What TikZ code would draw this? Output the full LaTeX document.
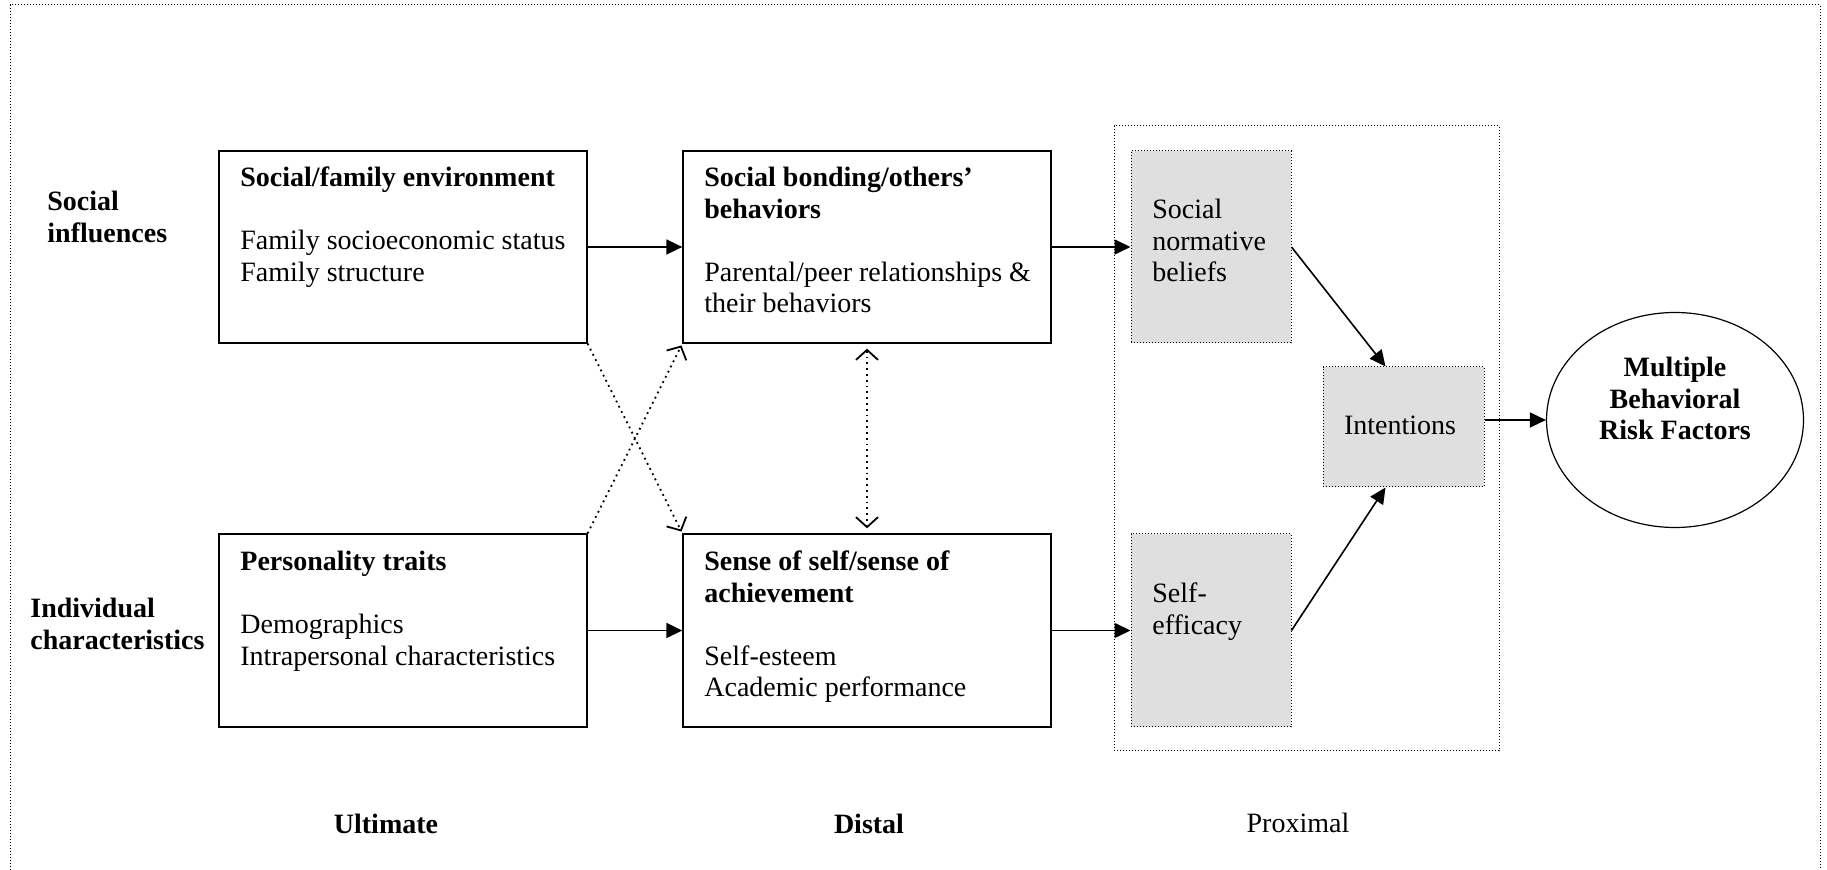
\documentclass[tikz,border=0pt]{standalone}
\usepackage{fontspec}
\setmainfont{Liberation Serif}
\usetikzlibrary{arrows.meta,shapes.geometric}
\newcommand\tbl[1]{{\fontsize{14pt}{15.75pt}\selectfont\begin{tabular}[t]{@{}l@{}}#1\end{tabular}}}
\newcommand\tbc[1]{{\fontsize{14pt}{15.75pt}\selectfont\begin{tabular}[t]{@{}c@{}}#1\end{tabular}}}
\begin{document}
\begin{tikzpicture}[x=0.5pt,y=-0.5pt,
  fine/.style={line width=0.5pt, dash pattern=on 0.6pt off 0.9pt},
  box/.style={draw, line width=0.65pt, minimum width=184pt, minimum height=96pt, inner sep=0pt},
  gbox/.style={draw, fine, fill=gray!25, inner sep=0pt},
  txt/.style={anchor=base west, inner sep=0pt},
  ctxt/.style={anchor=base, inner sep=0pt},
  arr/.style={-{Triangle[length=8pt,width=7.5pt]}, line width=0.8pt},
  dots/.style={line width=0.9pt, dash pattern=on 0.9pt off 2pt},
  darr/.style={dots, -{Straight Barb[length=5pt,width=11pt,line width=0.9pt]}, shorten >=1pt},
  ddarr/.style={dots, {Straight Barb[length=5pt,width=11pt,line width=0.9pt]}-{Straight Barb[length=5pt,width=11pt,line width=0.9pt]}, shorten >=2.5pt, shorten <=2.5pt}
]
\useasboundingbox (0,0) rectangle (1827,870);
\draw[fine] (10,870) -- (10,5) -- (1820,5) -- (1820,870);

% proximal group
\node[draw, fine, minimum width=192.5pt, minimum height=312.5pt, inner sep=0pt] (prox) at (1306.5,438.5) {};

% boxes
\node[box] (sfe) at (403,247) {};
\node[box] (sb) at (867,247) {};
\node[box, minimum height=96.5pt] (pt) at (403,630.5) {};
\node[box, minimum height=96.5pt] (sos) at (867,630.5) {};
\node[gbox, minimum width=80pt, minimum height=96pt] (snb) at (1211,247) {};
\node[gbox, minimum width=80pt, minimum height=96.5pt] (se) at (1211,630.5) {};
\node[gbox, minimum width=80.5pt, minimum height=60pt] (int) at (1403.5,427) {};
\node[draw, ellipse, line width=0.6pt, minimum width=128.5pt, minimum height=107.5pt, inner sep=0pt] (mbr) at (1675,420) {};

% texts
\node[txt] (lsoc) at (47,211) {\tbl{\textbf{Social}\\\textbf{influences}}};
\node[txt] (lind) at (30,618) {\tbl{\textbf{Individual}\\\textbf{characteristics}}};
\node[txt] (tsfe) at (240,187) {\tbl{\textbf{Social/family environment}\\[15.75pt]Family socioeconomic status\\Family structure}};
\node[txt] (tsb) at (704,187) {\tbl{\textbf{Social bonding/others’}\\\textbf{behaviors}\\[15.75pt]Parental/peer relationships \&\\their behaviors}};
\node[txt] (tpt) at (240,571) {\tbl{\textbf{Personality traits}\\[15.75pt]Demographics\\Intrapersonal characteristics}};
\node[txt] (tsos) at (704,571) {\tbl{\textbf{Sense of self/sense of}\\\textbf{achievement}\\[15.75pt]Self-esteem\\Academic performance}};
\node[txt] (tsnb) at (1152,219) {\tbl{Social\\normative\\beliefs}};
\node[txt] (tse) at (1152,603) {\tbl{Self-\\efficacy}};
\node[ctxt] (tint) at (1400,435) {\tbl{Intentions}};
\node[ctxt] (tmbr) at (1675,377) {\tbc{\textbf{Multiple}\\\textbf{Behavioral}\\\textbf{Risk Factors}}};
\node[ctxt] (lult) at (386,834) {\tbl{\textbf{Ultimate}}};
\node[ctxt] (ldis) at (869,834) {\tbl{\textbf{Distal}}};
\node[ctxt] (lprox) at (1298,833) {\tbl{Proximal}};

% connectors
\draw[arr] (sfe.east) -- (sb.west);
\draw[arr] (pt.east) -- (sos.west);
\draw[arr] (sb.east) -- (snb.west);
\draw[arr] (sos.east) -- (se.west);
\draw[arr] (snb.east) -- ([xshift=-9pt]int.north);
\draw[arr] (se.east) -- ([xshift=-9pt]int.south);
\draw[arr] (int.east |- mbr.west) -- (mbr.west);
\draw[darr] (sfe.south east) -- (sos.north west);
\draw[darr] (pt.north east) -- (sb.south west);
\draw[ddarr] (sb.south) -- (sos.north);
\end{tikzpicture}
\end{document}
